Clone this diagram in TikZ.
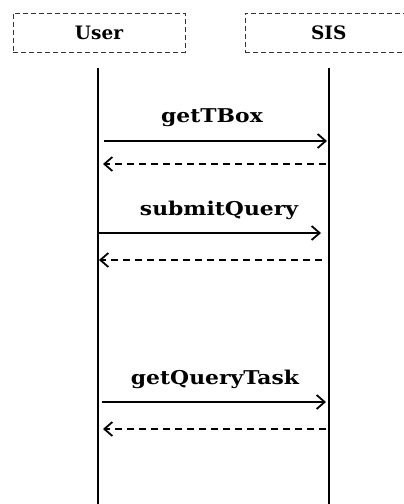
\documentclass[tikz,border=0pt]{standalone}
\usepackage{fontspec}
\setmainfont{DejaVu Serif}
\usetikzlibrary{arrows.meta}
\begin{document}
\begin{tikzpicture}[x=1pt,y=-1pt,
  actor/.style={draw=black!80, dashed, dash pattern=on 5pt off 3pt, line width=0.8pt, minimum height=39pt, inner sep=0pt, font=\bfseries\fontsize{18.5}{20}\selectfont},
  life/.style={line width=2.4pt},
  msg/.style={line width=1.2pt, -{Straight Barb[length=8pt,width=14pt,line width=1.8pt]}},
  ret/.style={msg, dashed, dash pattern=on 7pt off 5pt},
  lbl/.style={font=\bfseries\fontsize{19}{21}\selectfont, xscale=1.15, transform shape, inner sep=0pt}]
\useasboundingbox (0,0) rectangle (404,504);
\clip (0,0) rectangle (404,504);
\node[actor, minimum width=172pt] (user) at (99,32.5) {User};
\node[actor, minimum width=190pt, text width=160pt, align=left] (sis) at (340,32.5) {\hspace*{51pt}SIS};
\coordinate (ut) at (98,68);
\coordinate (ub) at (98,510);
\coordinate (st) at (329,68);
\coordinate (sb) at (329,510);
\draw[life] (ut) -- (ub);
\draw[life] (st) -- (sb);
% getTBox
\coordinate (a1) at (104,141); \coordinate (b1) at (327,141);
\coordinate (a2) at (103,164); \coordinate (b2) at (326,164);
\draw[msg] (a1) -- (b1);
\draw[ret] (b2) -- (a2);
\node[lbl] (l1) at (212,118) {getTBox};
% submitQuery
\coordinate (a3) at (98,233); \coordinate (b3) at (321,233);
\coordinate (a4) at (99,260); \coordinate (b4) at (322,260);
\draw[msg] (a3) -- (b3);
\draw[ret] (b4) -- (a4);
\node[lbl] (l2) at (219,210) {submitQuery};
% getQueryTask
\coordinate (a5) at (102,402); \coordinate (b5) at (326,402);
\coordinate (a6) at (103,429); \coordinate (b6) at (326,429);
\draw[msg] (a5) -- (b5);
\draw[ret] (b6) -- (a6);
\node[lbl] (l3) at (215,379) {getQueryTask};
\end{tikzpicture}
\end{document}
